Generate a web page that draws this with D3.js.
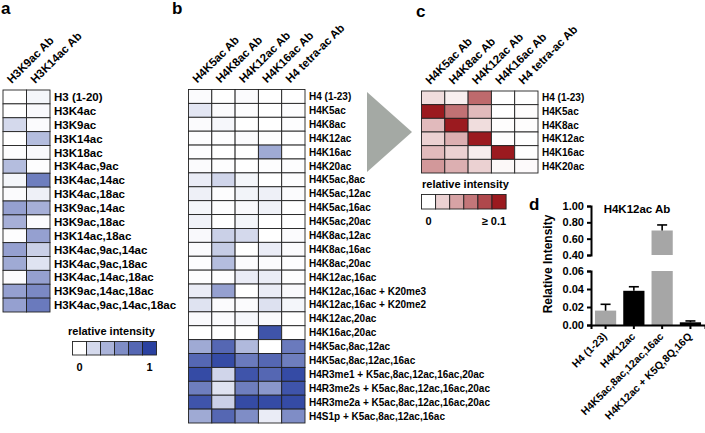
<!DOCTYPE html>
<html>
<head>
<meta charset="utf-8">
<script src="https://cdn.jsdelivr.net/npm/d3@7"></script>
<style>
  body { margin: 0; background: #fff; }
  svg text { font-family: "Liberation Sans", Arial, sans-serif; font-weight: bold; fill: #000; }
</style>
</head>
<body>
<svg id="chart" width="705" height="433"></svg>
<script>
// ---- data ----
var aCols = ["H3K9ac Ab", "H3K14ac Ab"];
var aRows = ["H3 (1-20)", "H3K4ac", "H3K9ac", "H3K14ac", "H3K18ac", "H3K4ac,9ac", "H3K4ac,14ac",
  "H3K4ac,18ac", "H3K9ac,14ac", "H3K9ac,18ac", "H3K14ac,18ac", "H3K4ac,9ac,14ac", "H3K4ac,9ac,18ac",
  "H3K4ac,14ac,18ac", "H3K9ac,14ac,18ac", "H3K4ac,9ac,14ac,18ac"];
var aVals = [
  [0, 0.05], [0, 0.03], [0.2, 0.02], [0, 0.35], [0.01, 0.03], [0.35, 0.01], [0.05, 0.68],
  [0.02, 0.08], [0.5, 0.42], [0.42, 0.02], [0.01, 0.5], [0.5, 0.25], [0.45, 0.15],
  [0.02, 0.5], [0.5, 0.62], [0.5, 0.7]
];

var bCols = ["H4K5ac Ab", "H4K8ac Ab", "H4K12ac Ab", "H4K16ac Ab", "H4 tetra-ac Ab"];
var bRows = ["H4 (1-23)", "H4K5ac", "H4K8ac", "H4K12ac", "H4K16ac", "H4K20ac",
  "H4K5ac,8ac", "H4K5ac,12ac", "H4K5ac,16ac", "H4K5ac,20ac", "H4K8ac,12ac", "H4K8ac,16ac",
  "H4K8ac,20ac", "H4K12ac,16ac", "H4K12ac,16ac + K20me3", "H4K12ac,16ac + K20me2",
  "H4K12ac,20ac", "H4K16ac,20ac", "H4K5ac,8ac,12ac", "H4K5ac,8ac,12ac,16ac",
  "H4R3me1 + K5ac,8ac,12ac,16ac,20ac", "H4R3me2s + K5ac,8ac,12ac,16ac,20ac",
  "H4R3me2a + K5ac,8ac,12ac,16ac,20ac", "H4S1p + K5ac,8ac,12ac,16ac"];
var bVals = [
  [0.02, 0, 0.02, 0, 0],
  [0.13, 0.02, 0.01, 0, 0.01],
  [0.02, 0.04, 0, 0, 0.01],
  [0.01, 0.01, 0.02, 0.01, 0],
  [0.01, 0, 0, 0.45, 0],
  [0.02, 0.01, 0, 0.01, 0.01],
  [0.1, 0.22, 0.05, 0, 0.01],
  [0.08, 0.01, 0.06, 0.08, 0.02],
  [0.05, 0.01, 0.03, 0.07, 0],
  [0.07, 0, 0.05, 0, 0],
  [0.03, 0.25, 0.2, 0, 0.02],
  [0.02, 0.27, 0, 0.1, 0.02],
  [0.01, 0.35, 0.02, 0.02, 0.01],
  [0.01, 0.01, 0.1, 0.1, 0.01],
  [0.1, 0.5, 0, 0.1, 0.03],
  [0.15, 0.02, 0.02, 0.16, 0.05],
  [0.03, 0.02, 0.04, 0.03, 0],
  [0, 0, 0, 0.9, 0],
  [0.45, 0.8, 0.37, 0, 0.7],
  [0.8, 0.95, 0.7, 0.8, 0.68],
  [0.95, 0.22, 0.9, 0.8, 0.95],
  [0.68, 0.15, 0.68, 0.55, 0.9],
  [0.9, 0.25, 0.95, 0.95, 0.95],
  [0.45, 0.8, 0.6, 0.1, 0.6]
];

var cCols = bCols;
var cRows = ["H4 (1-23)", "H4K5ac", "H4K8ac", "H4K12ac", "H4K16ac", "H4K20ac"];
var cVals = [
  [0.15, 0.07, 0.65, 0, 0],
  [1, 0.62, 0.3, 0, 0.01],
  [0.3, 1, 0.15, 0.01, 0.01],
  [0.2, 0.35, 1, 0.01, 0],
  [0.3, 0.2, 0.08, 1, 0],
  [0.45, 0.35, 0.2, 0.03, 0.02]
];

var legendSteps = [0, 0.2, 0.4, 0.6, 0.8, 1];

var dCats = ["H4 (1-23)", "H4K12ac", "H4K5ac,8ac,12ac,16ac", "H4K12ac + K5Q,8Q,16Q"];
var dVals = [0.016, 0.038, 0.70, 0.003];
var dErr = [0.023, 0.0425, 0.768, 0.0045];
var dColors = ["#a6a6a6", "#000000", "#a6a6a6", "#000000"];
var dLowTicks = [0, 0.02, 0.04, 0.06];
var dHighTicks = [0.4, 0.6, 0.8, 1.0];

var svg = d3.select("#chart");

var blue = d3.scaleLinear().domain([0, 1]).range(["#ffffff", "#2a41a0"]).interpolate(d3.interpolateRgb);
var red = d3.scaleLinear().domain([0, 1]).range(["#ffffff", "#9b1a1f"]).interpolate(d3.interpolateRgb);

function heatmap(opts) {
  var g = svg.append("g");
  var x = d3.scaleBand().domain(opts.cols).range([opts.x0, opts.x1]);
  var y = d3.scaleBand().domain(opts.rows).range([opts.y0, opts.y1]);

  opts.rows.forEach(function(r, i) {
    opts.cols.forEach(function(c, j) {
      g.append("rect")
        .attr("x", x(c)).attr("y", y(r))
        .attr("width", x.bandwidth()).attr("height", y.bandwidth())
        .attr("fill", opts.color(opts.vals[i][j]))
        .attr("stroke", "#222").attr("stroke-width", 0.9);
    });
  });

  g.selectAll(".rl").data(opts.rows).enter().append("text")
    .attr("x", opts.x1 + 4)
    .attr("y", function(d) { return y(d) + y.bandwidth() / 2; })
    .attr("dy", "0.36em")
    .style("font-size", opts.labelSize + "px")
    .text(function(d) { return d; });

  g.selectAll(".cl").data(opts.cols).enter().append("text")
    .attr("transform", function(d) {
      return "translate(" + (x(d) + x.bandwidth() / 2 - 3) + "," + (opts.y0 - 6) + ") rotate(-45)";
    })
    .style("font-size", "11.5px")
    .text(function(d) { return d; });
}

function legend(x0, y0, w, h, color, title, lo, hi, titleX) {
  var g = svg.append("g");
  g.selectAll("rect").data(legendSteps).enter().append("rect")
    .attr("x", function(d, i) { return x0 + i * w; })
    .attr("y", y0).attr("width", w).attr("height", h)
    .attr("fill", function(d) { return color(d); })
    .attr("stroke", "#222").attr("stroke-width", 0.9);
  g.append("text").attr("x", titleX).attr("y", y0 - 7).style("font-size", "11px").text(title);
  g.append("text").attr("x", x0 + w / 2).attr("y", y0 + h + 16).attr("text-anchor", "middle")
    .style("font-size", "11px").text(lo);
  g.append("text").attr("x", x0 + 6 * w - (hi.length > 1 ? 0 : w / 2)).attr("y", y0 + h + 16)
    .attr("text-anchor", hi.length > 1 ? "end" : "middle")
    .style("font-size", "11px").text(hi);
}

// panel letters
[["a", 1, 14], ["b", 172, 14], ["c", 416, 17], ["d", 529, 210]].forEach(function(p) {
  svg.append("text").attr("x", p[1]).attr("y", p[2]).style("font-size", "17px").text(p[0]);
});

heatmap({ cols: aCols, rows: aRows, vals: aVals, color: blue, x0: 3, x1: 50, y0: 90, y1: 312, labelSize: 11.5 });
legend(72.5, 341.5, 14, 13.5, blue, "relative intensity", "0", "1", 68);

heatmap({ cols: bCols, rows: bRows, vals: bVals, color: blue, x0: 188.5, x1: 305, y0: 89.5, y1: 423, labelSize: 10 });

// arrow between b and c
svg.append("path")
  .attr("d", "M367,92 L412,132 L367,172 Z")
  .attr("fill", "#a4a9a4");

heatmap({ cols: cCols, rows: cRows, vals: cVals, color: red, x0: 421.5, x1: 538, y0: 91, y1: 173, labelSize: 10 });
legend(421.5, 194.5, 14.1, 14.5, red, "relative intensity", "0", "\u2265 0.1", 422);

// ---- panel d ----
var dg = svg.append("g");
var xD = d3.scaleBand().domain(dCats).range([591, 705]).paddingInner(0.25).paddingOuter(0.14);
var yLow = d3.scaleLinear().domain([0, 0.06]).range([325, 271]);
var yHigh = d3.scaleLinear().domain([0.4, 1.0]).range([255, 206]);

dCats.forEach(function(c, i) {
  var v = dVals[i];
  dg.append("rect")
    .attr("x", xD(c)).attr("width", xD.bandwidth())
    .attr("y", yLow(Math.min(v, 0.06)))
    .attr("height", yLow(0) - yLow(Math.min(v, 0.06)))
    .attr("fill", dColors[i]);
  if (v > 0.4) {
    dg.append("rect")
      .attr("x", xD(c)).attr("width", xD.bandwidth())
      .attr("y", yHigh(v)).attr("height", yHigh(0.4) - yHigh(v))
      .attr("fill", dColors[i]);
  }
  var ys = v > 0.4 ? yHigh : yLow;
  var cx = xD(c) + xD.bandwidth() / 2;
  dg.append("line").attr("x1", cx).attr("x2", cx).attr("y1", ys(v)).attr("y2", ys(dErr[i]))
    .attr("stroke", "#000").attr("stroke-width", 1.6);
  dg.append("line").attr("x1", cx - 5).attr("x2", cx + 5).attr("y1", ys(dErr[i])).attr("y2", ys(dErr[i]))
    .attr("stroke", "#000").attr("stroke-width", 1.6);
});

var axLow = dg.append("g").attr("transform", "translate(591,0)")
  .call(d3.axisLeft(yLow).tickValues(dLowTicks).tickFormat(d3.format(".2f")).tickSizeOuter(0).tickSize(4));
var axHigh = dg.append("g").attr("transform", "translate(591,0)")
  .call(d3.axisLeft(yHigh).tickValues(dHighTicks).tickFormat(d3.format(".2f")).tickSizeOuter(0).tickSize(4));
var axX = dg.append("g").attr("transform", "translate(0,325)")
  .call(d3.axisBottom(xD).tickSizeOuter(0).tickSize(4));

[axLow, axHigh, axX].forEach(function(a) {
  a.selectAll("path, line").attr("stroke", "#000").attr("stroke-width", 2);
  a.selectAll("text").style("font-family", "Liberation Sans, Arial, sans-serif")
    .style("font-weight", "bold").style("font-size", "11px").attr("fill", "#000");
});
axX.selectAll("text")
  .attr("text-anchor", "end").attr("dy", null).attr("y", null)
  .attr("transform", "translate(2,12) rotate(-45)")
  .style("font-size", "10.5px");

dg.append("text").attr("x", 637).attr("y", 213).attr("text-anchor", "middle")
  .style("font-size", "11.5px").text("H4K12ac Ab");
dg.append("text").attr("transform", "translate(552,264) rotate(-90)").attr("text-anchor", "middle")
  .style("font-size", "12px").text("Relative Intensity");
</script>
</body>
</html>
